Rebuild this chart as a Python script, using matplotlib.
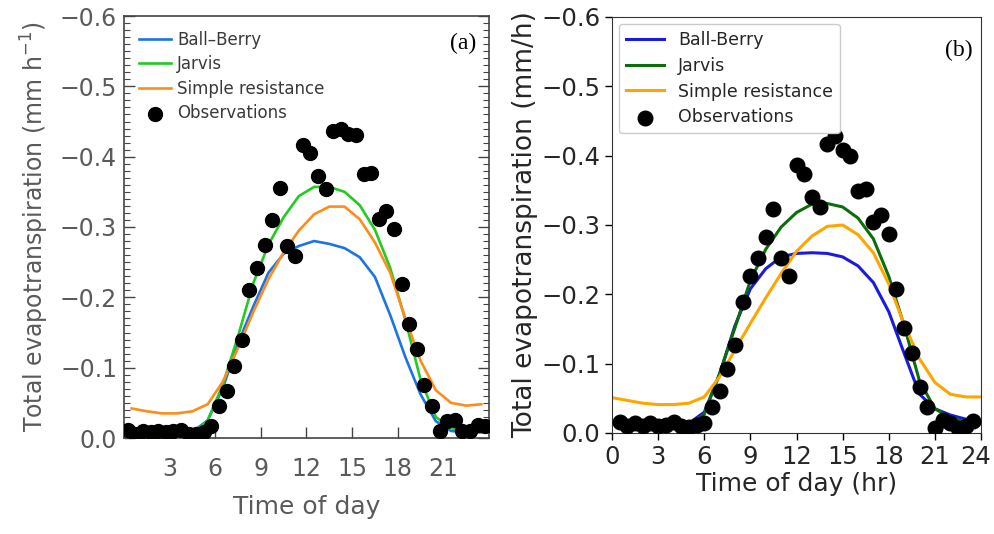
import numpy as np
import matplotlib
matplotlib.use("Agg")
import matplotlib.pyplot as plt
import matplotlib.transforms as mtransforms
from matplotlib.ticker import MultipleLocator

# ---------------- data: panel (a) ----------------
model_hours_a = [h + 0.5 for h in range(24)]
ball_berry_a = [-0.008, -0.008, -0.008, -0.008, -0.009, -0.025, -0.071, -0.135,
                -0.187, -0.235, -0.262, -0.273, -0.280, -0.276, -0.270, -0.257,
                -0.229, -0.175, -0.115, -0.062, -0.024, -0.010, -0.008, -0.008]
jarvis_a = [-0.005, -0.005, -0.005, -0.005, -0.006, -0.025, -0.076, -0.145,
            -0.220, -0.275, -0.314, -0.344, -0.357, -0.357, -0.350, -0.331,
            -0.296, -0.242, -0.168, -0.083, -0.030, -0.014, -0.010, -0.010]
simple_res_a = [-0.042, -0.038, -0.035, -0.035, -0.038, -0.048, -0.080, -0.128,
                -0.179, -0.226, -0.264, -0.295, -0.318, -0.329, -0.329, -0.311,
                -0.278, -0.235, -0.170, -0.110, -0.068, -0.050, -0.046, -0.048]
obs_hours_a = [0.25 + 0.5 * k for k in range(48)]
obs_a = [-0.012, -0.005, -0.010, -0.008, -0.010, -0.008, -0.010, -0.012,
         -0.005, -0.006, -0.008, -0.017, -0.045, -0.067, -0.103, -0.140,
         -0.211, -0.242, -0.274, -0.310, -0.355, -0.273, -0.259, -0.416,
         -0.405, -0.373, -0.354, -0.436, -0.439, -0.432, -0.431, -0.375,
         -0.377, -0.311, -0.323, -0.297, -0.219, -0.162, -0.126, -0.076,
         -0.046, -0.010, -0.024, -0.026, -0.010, -0.010, -0.019, -0.017]

# ---------------- data: panel (b) ----------------
model_hours_b = list(range(25))
ball_berry_b = [-0.017, -0.016, -0.015, -0.014, -0.014, -0.014, -0.030, -0.085,
                -0.155, -0.208, -0.237, -0.254, -0.259, -0.260, -0.259, -0.254,
                -0.241, -0.217, -0.175, -0.115, -0.056, -0.035, -0.026, -0.020,
                -0.016]
jarvis_b = [-0.013, -0.012, -0.011, -0.011, -0.011, -0.011, -0.027, -0.086,
            -0.152, -0.220, -0.265, -0.297, -0.318, -0.330, -0.331, -0.326,
            -0.310, -0.280, -0.226, -0.155, -0.075, -0.035, -0.022, -0.016,
            -0.013]
simple_res_b = [-0.051, -0.047, -0.043, -0.041, -0.041, -0.043, -0.052, -0.081,
                -0.120, -0.158, -0.195, -0.230, -0.262, -0.284, -0.298, -0.300,
                -0.286, -0.260, -0.215, -0.157, -0.107, -0.073, -0.056, -0.052,
                -0.052]
obs_hours_b = [0.5 + 0.5 * k for k in range(47)]
obs_b = [-0.016, -0.010, -0.014, -0.010, -0.014, -0.010, -0.012, -0.016,
         -0.010, -0.009, -0.012, -0.014, -0.038, -0.060, -0.092, -0.127,
         -0.189, -0.226, -0.252, -0.283, -0.323, -0.252, -0.226, -0.386,
         -0.374, -0.341, -0.326, -0.417, -0.429, -0.408, -0.400, -0.349,
         -0.352, -0.304, -0.314, -0.287, -0.207, -0.151, -0.116, -0.067,
         -0.037, -0.007, -0.019, -0.014, -0.007, -0.010, -0.017]

series_names = ["Ball\u2013Berry", "Jarvis", "Simple resistance", "Observations"]
series_names_b = ["Ball-Berry", "Jarvis", "Simple resistance", "Observations"]
xticks_a = [3, 6, 9, 12, 15, 18, 21]
xticks_b = [0, 3, 6, 9, 12, 15, 18, 21, 24]
yticks = [0.0, -0.1, -0.2, -0.3, -0.4, -0.5, -0.6]
ytick_labels = ["0.0", "\u22120.1", "\u22120.2", "\u22120.3", "\u22120.4", "\u22120.5", "\u22120.6"]

W, H = 995, 534
fig = plt.figure(figsize=(W / 100, H / 100), dpi=100)

# ---------------- panel (a): IDL-like style ----------------
grey = "#5a5a5a"
axA = fig.add_axes([124 / W, 1 - 438 / H, 365 / W, 422 / H])
axA.plot(model_hours_a, ball_berry_a, color="#1a74e6", lw=1.9, label=series_names[0])
axA.plot(model_hours_a, jarvis_a, color="#1fcc1f", lw=1.9, label=series_names[1])
axA.plot(model_hours_a, simple_res_a, color="#ff8c1a", lw=1.9, label=series_names[2])
axA.scatter(obs_hours_a, obs_a, s=100, color="black", zorder=3, label=series_names[3])
axA.set_xlim(0, 24)
axA.set_ylim(0.0, -0.6)
axA.set_xticks(xticks_a)
axA.set_yticks(yticks)
axA.set_yticklabels(ytick_labels)
axA.yaxis.set_minor_locator(MultipleLocator(0.01))
axA.tick_params(axis="both", which="both", direction="in", colors="#444444",
                labelcolor=grey, labelsize=17, right=True)
axA.tick_params(axis="y", which="major", length=8, width=1, pad=5)
axA.tick_params(axis="y", which="minor", length=4, width=0.8)
axA.tick_params(axis="x", which="major", length=8, width=1, pad=14)
for sp in axA.spines.values():
    sp.set_color("#444444")
    sp.set_linewidth(1.2)
axA.set_xlabel("Time of day", fontsize=18, color=grey, labelpad=10)
axA.set_ylabel("Total evapotranspiration (mm h$^{-1}$)", fontsize=17, color=grey, labelpad=6)
axA.legend(loc="upper left", frameon=False, fontsize=12, handlelength=1.9,
           handletextpad=0.4, labelspacing=0.38, borderaxespad=0.5,
           labelcolor="#3a3a3a")
axA.text(0.93, 0.935, "(a)", transform=axA.transAxes, ha="center", va="center",
         fontsize=17, family="Liberation Serif")

# ---------------- panel (b): matplotlib default style ----------------
dark = "#262626"
axB = fig.add_axes([612 / W, 1 - 433 / H, 369 / W, 416 / H])
axB.plot(model_hours_b, ball_berry_b, color="#1a1ae0", lw=2.2, label=series_names_b[0])
axB.plot(model_hours_b, jarvis_b, color="#0b6e0b", lw=2.2, label=series_names_b[1])
axB.plot(model_hours_b, simple_res_b, color="#ffa500", lw=2.2, label=series_names_b[2])
axB.scatter(obs_hours_b, obs_b, s=110, color="black", zorder=3, label=series_names_b[3])
axB.set_xlim(0, 24)
axB.set_ylim(0.0, -0.6)
axB.set_xticks(xticks_b)
axB.set_yticks(yticks)
axB.set_yticklabels(ytick_labels)
axB.tick_params(axis="both", labelsize=17.5, labelcolor=dark, length=5, width=1)
for sp in axB.spines.values():
    sp.set_color("#333333")
axB.set_xlabel("Time of day (hr)", fontsize=18, color=dark, labelpad=2)
axB.set_ylabel("Total evapotranspiration (mm/h)", fontsize=19, color=dark, labelpad=2)
axB.legend(loc="upper left", fontsize=12.5, handlelength=2.2, labelspacing=0.45,
           borderaxespad=0.4, labelcolor=dark, framealpha=1, edgecolor="#cccccc")
axB.text(0.94, 0.92, "(b)", transform=axB.transAxes, ha="center", va="center",
         fontsize=17, family="Liberation Serif")

# keep the last x tick label ("24") inside the figure edge
last_label = axB.get_xticklabels()[-1]
last_label.set_transform(last_label.get_transform() +
                         mtransforms.ScaledTranslation(-5 / 100, 0, fig.dpi_scale_trans))

fig.savefig("out.png", dpi=100)
